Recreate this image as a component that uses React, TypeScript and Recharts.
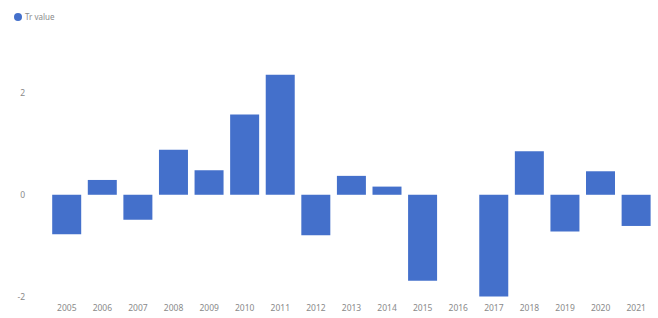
import { Bar, BarChart, Legend, XAxis, YAxis } from "recharts";

const years = ["2005", "2006", "2007", "2008", "2009", "2010", "2011", "2012", "2013", "2014", "2015", "2016", "2017", "2018", "2019", "2020", "2021"];
const trValues = [-0.77, 0.29, -0.49, 0.88, 0.48, 1.57, 2.35, -0.79, 0.37, 0.16, -1.68, 0, -1.99, 0.85, -0.72, 0.46, -0.61];
const yTicks = [-2, 0, 2];

const seriesName = "Tr value";
const barColor = "#4470cb";

function TopLegend() {
  return (
    <div style={{ display: "flex", alignItems: "center", gap: 3, fontSize: 8, color: "#8a8a8a", marginLeft: 14 }}>
      <span style={{ width: 8, height: 8, borderRadius: "50%", background: barColor, display: "inline-block" }} />
      <span>{seriesName}</span>
    </div>
  );
}

export default function App() {
  const data = years.map((year, i) => ({ year, value: trValues[i] }));
  return (
    <div style={{ position: "absolute", left: 0, top: 0, width: 658, height: 318, background: "#fff", fontFamily: "'Noto Sans', sans-serif" }}>
      <BarChart width={658} height={318} data={data} margin={{ top: 10, right: 4, bottom: 5, left: 0 }} barCategoryGap="9%">
        <Legend verticalAlign="top" align="left" content={<TopLegend />} wrapperStyle={{ top: 11, left: 0 }} height={57} />
        <XAxis
          dataKey="year"
          axisLine={false}
          tickLine={false}
          interval={0}
          tick={{ fontSize: 8.5, fill: "#8a8a8a" }}
          tickMargin={2}
          height={16}
        />
        <YAxis
          width={49}
          domain={[-2, 2.5]}
          ticks={yTicks}
          axisLine={false}
          tickLine={false}
          tick={{ fontSize: 8.5, fill: "#8a8a8a" }}
          tickMargin={18}
        />
        <Bar dataKey="value" name={seriesName} fill={barColor} isAnimationActive={false} />
      </BarChart>
    </div>
  );
}
